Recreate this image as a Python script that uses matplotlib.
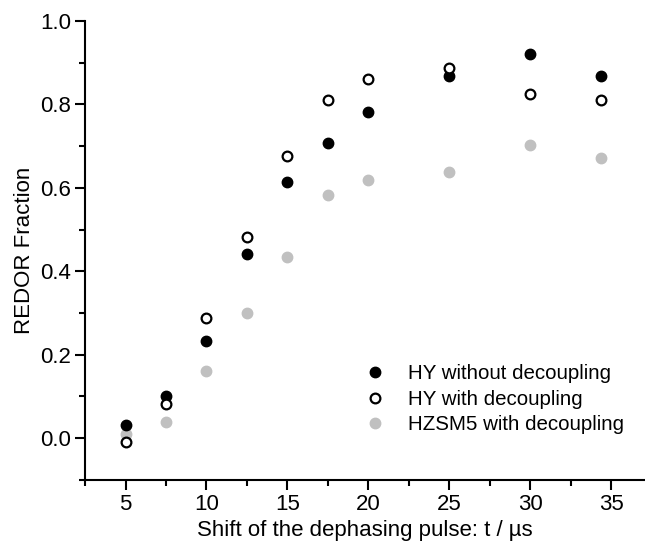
import numpy as np
import matplotlib.pyplot as plt
from matplotlib.ticker import MultipleLocator

plt.rcParams['font.family'] = ['Liberation Sans', 'DejaVu Sans']

# data
t_us = [5, 7.5, 10, 12.5, 15, 17.5, 20, 25, 30, 34.4]
hy_no_dec = [0.032, 0.100, 0.232, 0.442, 0.615, 0.707, 0.782, 0.868, 0.921, 0.868]
hy_dec = [-0.010, 0.083, 0.287, 0.482, 0.676, 0.810, 0.860, 0.888, 0.826, 0.811]
hzsm5_dec = [0.011, 0.039, 0.161, 0.299, 0.434, 0.584, 0.618, 0.637, 0.702, 0.672]

fs = 16
gray = "#c0c0c0"

fig = plt.figure(figsize=(6.45, 5.46), dpi=100)
ax = fig.add_axes([0.132, 0.121, 0.868, 0.8405])

ax.plot(t_us, hzsm5_dec, "o", ms=7.5, color=gray, mec=gray, label="HZSM5 with decoupling", zorder=2)
ax.plot(t_us, hy_no_dec, "o", ms=7.5, color="black", label="HY without decoupling", zorder=3)
ax.plot(t_us, hy_dec, "o", ms=7, mfc="white", mec="black", mew=1.6, label="HY with decoupling", zorder=4)

ax.set_xlim(2.5, 37.1)
ax.set_ylim(-0.1, 1.0)
ax.xaxis.set_major_locator(MultipleLocator(5))
ax.xaxis.set_minor_locator(MultipleLocator(2.5))
ax.yaxis.set_minor_locator(MultipleLocator(0.1))
ax.set_yticks(np.arange(0, 1.01, 0.2))
ax.set_yticklabels([f"{v:.1f}" for v in np.arange(0, 1.01, 0.2)])

ax.spines["top"].set_visible(False)
ax.spines["right"].set_visible(False)
ax.spines["left"].set_linewidth(1.5)
ax.spines["bottom"].set_linewidth(1.5)
ax.tick_params(which="major", direction="out", length=7, width=1.5, labelsize=fs, pad=3)
ax.tick_params(which="minor", direction="out", length=4, width=1.5)

ax.set_xlabel("Shift of the dephasing pulse: t / \u00b5s", fontsize=fs, labelpad=4)
ax.set_ylabel("REDOR Fraction", fontsize=fs, labelpad=4)

h, l = ax.get_legend_handles_labels()
order = [1, 2, 0]
ax.legend([h[i] for i in order], [l[i] for i in order], loc="lower right",
          bbox_to_anchor=(0.981, 0.077), frameon=False, fontsize=14.8,
          handlelength=1.0, handletextpad=1.1, labelspacing=0.32, borderpad=0)

fig.savefig("out.png", dpi=100)
